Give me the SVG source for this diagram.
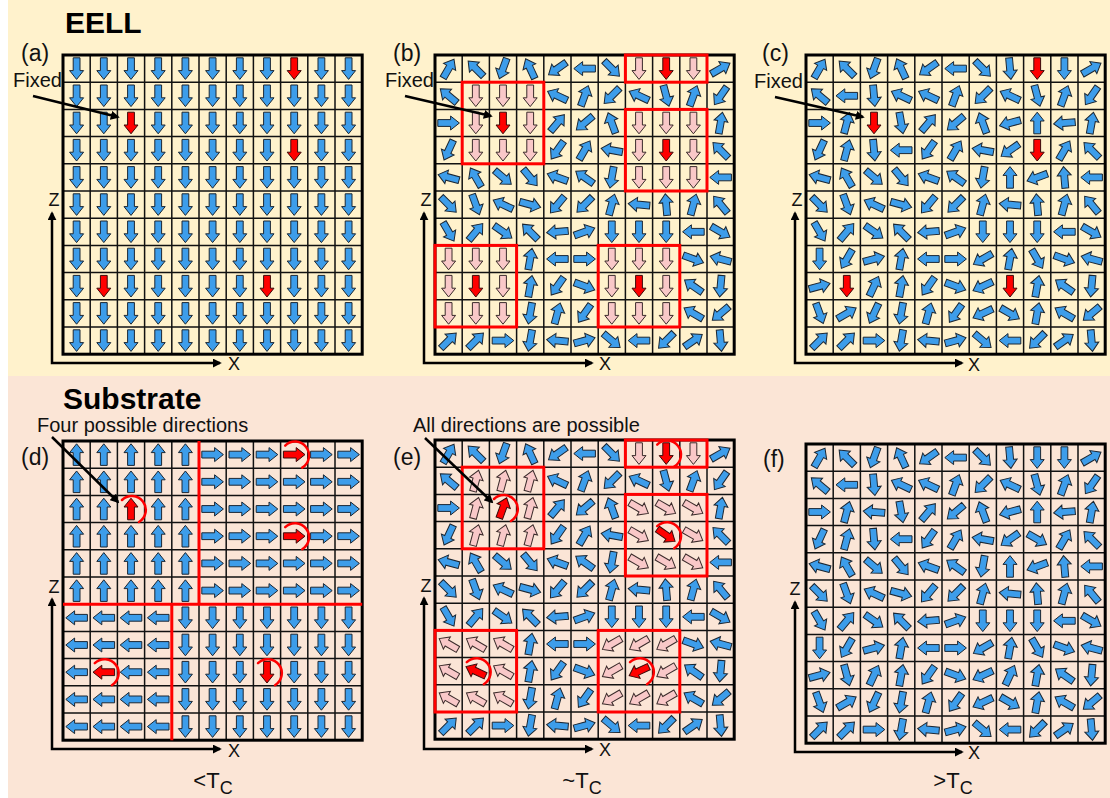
<svg xmlns="http://www.w3.org/2000/svg" width="1110" height="798" viewBox="0 0 1110 798">
<style>
text{font-family:"Liberation Sans",Arial,sans-serif;fill:#111}
.h{font-weight:bold;font-size:30px;fill:#000}
.lb{font-size:23px}
.t{font-size:20px}
.ax{font-size:18px}
.tc{font-size:22px}
.b{fill:#3D9DEA;stroke:#1c2733;stroke-width:1}
.r{fill:#FF0000;stroke:#3a0a0a;stroke-width:1}
.p{fill:#F9C8C8;stroke:#3a2a2a;stroke-width:1}
.gl{fill:none;stroke:#111;stroke-width:1.5}
.go{fill:none;stroke:#000;stroke-width:3}
.rb{fill:none;stroke:#FF0000;stroke-width:3}
.cl{fill:none;stroke:#F00;stroke-width:2.5;stroke-linecap:round}
.cn{fill:none;stroke:#000;stroke-width:2.5}
</style>
<defs>
<marker id="ah" viewBox="0 0 10 10" refX="8" refY="5" markerWidth="3.6" markerHeight="3.6" orient="auto-start-reverse"><path d="M0,0L10,5L0,10Z" fill="#000"/></marker>
<path id="ar" d="M-10.8,-3.4H2V-7L10.8,0L2,7V3.4H-10.8Z"/>
<path id="cu" d="M-10,-10A14,14 0 1 1 7,12"/>
<g id="grid"><path class="gl" d="M27.2 0V299.2M54.4 0V299.2M81.6 0V299.2M108.8 0V299.2M136 0V299.2M163.2 0V299.2M190.4 0V299.2M217.6 0V299.2M244.8 0V299.2M272 0V299.2M0 27.2H299.2M0 54.4H299.2M0 81.6H299.2M0 108.8H299.2M0 136H299.2M0 163.2H299.2M0 190.4H299.2M0 217.6H299.2M0 244.8H299.2M0 272H299.2"/><rect class="go" x="0" y="0" width="299.2" height="299.2"/></g>
<g id="boxes"><rect class="rb" x="27.2" y="27.2" width="81.6" height="81.6"/><rect class="rb" x="190.4" y="0" width="81.6" height="27.2"/><rect class="rb" x="190.4" y="54.4" width="81.6" height="81.6"/><rect class="rb" x="0" y="190.4" width="81.6" height="81.6"/><rect class="rb" x="163.2" y="190.4" width="81.6" height="81.6"/></g>
<g id="rowD" class="b"><use href="#ar" transform="translate(13.6,0)rotate(90)"/><use href="#ar" transform="translate(40.8,0)rotate(90)"/><use href="#ar" transform="translate(68,0)rotate(90)"/><use href="#ar" transform="translate(95.2,0)rotate(90)"/><use href="#ar" transform="translate(122.4,0)rotate(90)"/><use href="#ar" transform="translate(149.6,0)rotate(90)"/><use href="#ar" transform="translate(176.8,0)rotate(90)"/><use href="#ar" transform="translate(204,0)rotate(90)"/><use href="#ar" transform="translate(231.2,0)rotate(90)"/><use href="#ar" transform="translate(258.4,0)rotate(90)"/><use href="#ar" transform="translate(285.6,0)rotate(90)"/></g>
<g id="rowUR" class="b"><use href="#ar" transform="translate(13.6,0)rotate(-90)"/><use href="#ar" transform="translate(40.8,0)rotate(-90)"/><use href="#ar" transform="translate(68,0)rotate(-90)"/><use href="#ar" transform="translate(95.2,0)rotate(-90)"/><use href="#ar" transform="translate(122.4,0)rotate(-90)"/><use href="#ar" transform="translate(149.6,0)"/><use href="#ar" transform="translate(176.8,0)"/><use href="#ar" transform="translate(204,0)"/><use href="#ar" transform="translate(231.2,0)"/><use href="#ar" transform="translate(258.4,0)"/><use href="#ar" transform="translate(285.6,0)"/></g>
<g id="rowLD" class="b"><use href="#ar" transform="translate(13.6,0)rotate(180)"/><use href="#ar" transform="translate(40.8,0)rotate(180)"/><use href="#ar" transform="translate(68,0)rotate(180)"/><use href="#ar" transform="translate(95.2,0)rotate(180)"/><use href="#ar" transform="translate(122.4,0)rotate(90)"/><use href="#ar" transform="translate(149.6,0)rotate(90)"/><use href="#ar" transform="translate(176.8,0)rotate(90)"/><use href="#ar" transform="translate(204,0)rotate(90)"/><use href="#ar" transform="translate(231.2,0)rotate(90)"/><use href="#ar" transform="translate(258.4,0)rotate(90)"/><use href="#ar" transform="translate(285.6,0)rotate(90)"/></g>
<g id="rndOut" class="b">
<use href="#ar" transform="translate(13.6,13.6)rotate(-60)"/><use href="#ar" transform="translate(40.8,13.6)rotate(-135)"/><use href="#ar" transform="translate(68,13.6)rotate(-250)"/><use href="#ar" transform="translate(95.2,13.6)rotate(-115)"/><use href="#ar" transform="translate(122.4,13.6)rotate(-215)"/><use href="#ar" transform="translate(149.6,13.6)rotate(-180)"/><use href="#ar" transform="translate(176.8,13.6)rotate(-315)"/><use href="#ar" transform="translate(285.6,13.6)rotate(-30)"/>
<use href="#ar" transform="translate(13.6,40.8)rotate(-140)"/><use href="#ar" transform="translate(122.4,40.8)rotate(-155)"/><use href="#ar" transform="translate(149.6,40.8)rotate(-70)"/><use href="#ar" transform="translate(176.8,40.8)rotate(-225)"/><use href="#ar" transform="translate(204,40.8)rotate(-155)"/><use href="#ar" transform="translate(231.2,40.8)rotate(-285)"/><use href="#ar" transform="translate(258.4,40.8)rotate(-70)"/><use href="#ar" transform="translate(285.6,40.8)rotate(-235)"/>
<use href="#ar" transform="translate(13.6,68)"/><use href="#ar" transform="translate(122.4,68)rotate(-50)"/><use href="#ar" transform="translate(149.6,68)rotate(-220)"/><use href="#ar" transform="translate(176.8,68)rotate(-110)"/><use href="#ar" transform="translate(285.6,68)rotate(-80)"/>
<use href="#ar" transform="translate(13.6,95.2)rotate(-245)"/><use href="#ar" transform="translate(122.4,95.2)rotate(-235)"/><use href="#ar" transform="translate(149.6,95.2)rotate(-60)"/><use href="#ar" transform="translate(176.8,95.2)rotate(-170)"/><use href="#ar" transform="translate(285.6,95.2)rotate(-135)"/>
<use href="#ar" transform="translate(13.6,122.4)rotate(-165)"/><use href="#ar" transform="translate(40.8,122.4)rotate(-120)"/><use href="#ar" transform="translate(68,122.4)rotate(-320)"/><use href="#ar" transform="translate(95.2,122.4)rotate(-310)"/><use href="#ar" transform="translate(122.4,122.4)rotate(-160)"/><use href="#ar" transform="translate(149.6,122.4)rotate(-145)"/><use href="#ar" transform="translate(176.8,122.4)rotate(-260)"/><use href="#ar" transform="translate(285.6,122.4)rotate(-180)"/>
<use href="#ar" transform="translate(13.6,149.6)rotate(-315)"/><use href="#ar" transform="translate(40.8,149.6)rotate(-290)"/><use href="#ar" transform="translate(68,149.6)rotate(-155)"/><use href="#ar" transform="translate(95.2,149.6)rotate(-345)"/><use href="#ar" transform="translate(122.4,149.6)rotate(-230)"/><use href="#ar" transform="translate(149.6,149.6)rotate(-225)"/><use href="#ar" transform="translate(176.8,149.6)rotate(-75)"/><use href="#ar" transform="translate(204,149.6)rotate(-175)"/><use href="#ar" transform="translate(231.2,149.6)rotate(-95)"/><use href="#ar" transform="translate(258.4,149.6)rotate(-75)"/><use href="#ar" transform="translate(285.6,149.6)rotate(-130)"/>
<use href="#ar" transform="translate(13.6,176.8)rotate(-300)"/><use href="#ar" transform="translate(40.8,176.8)rotate(-50)"/><use href="#ar" transform="translate(68,176.8)rotate(-325)"/><use href="#ar" transform="translate(95.2,176.8)rotate(-135)"/><use href="#ar" transform="translate(122.4,176.8)rotate(-185)"/><use href="#ar" transform="translate(149.6,176.8)rotate(-20)"/><use href="#ar" transform="translate(176.8,176.8)rotate(-270)"/><use href="#ar" transform="translate(204,176.8)rotate(-270)"/><use href="#ar" transform="translate(231.2,176.8)rotate(-270)"/><use href="#ar" transform="translate(258.4,176.8)rotate(-180)"/><use href="#ar" transform="translate(285.6,176.8)rotate(-330)"/>
<use href="#ar" transform="translate(95.2,204)rotate(-80)"/><use href="#ar" transform="translate(122.4,204)rotate(-180)"/><use href="#ar" transform="translate(149.6,204)"/><use href="#ar" transform="translate(258.4,204)rotate(-340)"/><use href="#ar" transform="translate(285.6,204)rotate(-165)"/>
<use href="#ar" transform="translate(95.2,231.2)rotate(-80)"/><use href="#ar" transform="translate(122.4,231.2)rotate(-235)"/><use href="#ar" transform="translate(149.6,231.2)rotate(-340)"/><use href="#ar" transform="translate(258.4,231.2)rotate(-145)"/><use href="#ar" transform="translate(285.6,231.2)rotate(-265)"/>
<use href="#ar" transform="translate(95.2,258.4)rotate(-260)"/><use href="#ar" transform="translate(122.4,258.4)rotate(-75)"/><use href="#ar" transform="translate(149.6,258.4)rotate(-235)"/><use href="#ar" transform="translate(258.4,258.4)rotate(-150)"/><use href="#ar" transform="translate(285.6,258.4)rotate(-220)"/>
<use href="#ar" transform="translate(13.6,285.6)rotate(-45)"/><use href="#ar" transform="translate(40.8,285.6)rotate(-45)"/><use href="#ar" transform="translate(68,285.6)"/><use href="#ar" transform="translate(95.2,285.6)rotate(-260)"/><use href="#ar" transform="translate(122.4,285.6)rotate(-175)"/><use href="#ar" transform="translate(149.6,285.6)rotate(-15)"/><use href="#ar" transform="translate(176.8,285.6)rotate(-320)"/><use href="#ar" transform="translate(204,285.6)rotate(-180)"/><use href="#ar" transform="translate(231.2,285.6)rotate(-225)"/><use href="#ar" transform="translate(258.4,285.6)rotate(-35)"/><use href="#ar" transform="translate(285.6,285.6)rotate(-275)"/>
</g>
<g id="rndIn" class="b">
<use href="#ar" transform="translate(204,13.6)rotate(-275)"/><use href="#ar" transform="translate(258.4,13.6)rotate(-270)"/>
<use href="#ar" transform="translate(40.8,40.8)rotate(-180)"/><use href="#ar" transform="translate(68,40.8)rotate(-275)"/><use href="#ar" transform="translate(95.2,40.8)rotate(-155)"/>
<use href="#ar" transform="translate(40.8,68)rotate(-75)"/><use href="#ar" transform="translate(95.2,68)rotate(-280)"/><use href="#ar" transform="translate(204,68)rotate(-195)"/><use href="#ar" transform="translate(231.2,68)rotate(-90)"/><use href="#ar" transform="translate(258.4,68)rotate(-185)"/>
<use href="#ar" transform="translate(40.8,95.2)rotate(-75)"/><use href="#ar" transform="translate(68,95.2)rotate(-275)"/><use href="#ar" transform="translate(95.2,95.2)rotate(-180)"/><use href="#ar" transform="translate(204,95.2)rotate(-215)"/><use href="#ar" transform="translate(258.4,95.2)rotate(-60)"/>
<use href="#ar" transform="translate(204,122.4)rotate(-90)"/><use href="#ar" transform="translate(231.2,122.4)rotate(-200)"/><use href="#ar" transform="translate(258.4,122.4)rotate(-95)"/>
<use href="#ar" transform="translate(13.6,204)rotate(-270)"/><use href="#ar" transform="translate(40.8,204)rotate(-240)"/><use href="#ar" transform="translate(68,204)rotate(-15)"/><use href="#ar" transform="translate(176.8,204)rotate(-210)"/><use href="#ar" transform="translate(204,204)rotate(-80)"/><use href="#ar" transform="translate(231.2,204)rotate(-300)"/>
<use href="#ar" transform="translate(13.6,231.2)rotate(-15)"/><use href="#ar" transform="translate(68,231.2)rotate(-65)"/><use href="#ar" transform="translate(176.8,231.2)rotate(-205)"/><use href="#ar" transform="translate(231.2,231.2)rotate(-80)"/>
<use href="#ar" transform="translate(13.6,258.4)rotate(-290)"/><use href="#ar" transform="translate(40.8,258.4)rotate(-30)"/><use href="#ar" transform="translate(68,258.4)rotate(-245)"/><use href="#ar" transform="translate(176.8,258.4)rotate(-205)"/><use href="#ar" transform="translate(204,258.4)rotate(-330)"/><use href="#ar" transform="translate(231.2,258.4)rotate(-80)"/>
</g>
<g id="rndRed" class="b"><use href="#ar" transform="translate(231.2,13.6)rotate(-270)"/><use href="#ar" transform="translate(68,68)rotate(-175)"/><use href="#ar" transform="translate(231.2,95.2)rotate(-330)"/><use href="#ar" transform="translate(40.8,231.2)rotate(-285)"/><use href="#ar" transform="translate(204,231.2)rotate(-65)"/></g>
<g id="reds" class="r"><use href="#ar" transform="translate(231.2,13.6)rotate(90)"/><use href="#ar" transform="translate(68,68)rotate(90)"/><use href="#ar" transform="translate(231.2,95.2)rotate(90)"/><use href="#ar" transform="translate(40.8,231.2)rotate(90)"/><use href="#ar" transform="translate(204,231.2)rotate(90)"/></g>
<g id="pinkD" class="p">
<use href="#ar" transform="translate(204,13.6)rotate(90)"/><use href="#ar" transform="translate(258.4,13.6)rotate(90)"/>
<use href="#ar" transform="translate(40.8,40.8)rotate(90)"/><use href="#ar" transform="translate(68,40.8)rotate(90)"/><use href="#ar" transform="translate(95.2,40.8)rotate(90)"/>
<use href="#ar" transform="translate(40.8,68)rotate(90)"/><use href="#ar" transform="translate(95.2,68)rotate(90)"/><use href="#ar" transform="translate(204,68)rotate(90)"/><use href="#ar" transform="translate(231.2,68)rotate(90)"/><use href="#ar" transform="translate(258.4,68)rotate(90)"/>
<use href="#ar" transform="translate(40.8,95.2)rotate(90)"/><use href="#ar" transform="translate(68,95.2)rotate(90)"/><use href="#ar" transform="translate(95.2,95.2)rotate(90)"/><use href="#ar" transform="translate(204,95.2)rotate(90)"/><use href="#ar" transform="translate(258.4,95.2)rotate(90)"/>
<use href="#ar" transform="translate(204,122.4)rotate(90)"/><use href="#ar" transform="translate(231.2,122.4)rotate(90)"/><use href="#ar" transform="translate(258.4,122.4)rotate(90)"/>
<use href="#ar" transform="translate(13.6,204)rotate(90)"/><use href="#ar" transform="translate(40.8,204)rotate(90)"/><use href="#ar" transform="translate(68,204)rotate(90)"/><use href="#ar" transform="translate(176.8,204)rotate(90)"/><use href="#ar" transform="translate(204,204)rotate(90)"/><use href="#ar" transform="translate(231.2,204)rotate(90)"/>
<use href="#ar" transform="translate(13.6,231.2)rotate(90)"/><use href="#ar" transform="translate(68,231.2)rotate(90)"/><use href="#ar" transform="translate(176.8,231.2)rotate(90)"/><use href="#ar" transform="translate(231.2,231.2)rotate(90)"/>
<use href="#ar" transform="translate(13.6,258.4)rotate(90)"/><use href="#ar" transform="translate(40.8,258.4)rotate(90)"/><use href="#ar" transform="translate(68,258.4)rotate(90)"/><use href="#ar" transform="translate(176.8,258.4)rotate(90)"/><use href="#ar" transform="translate(204,258.4)rotate(90)"/><use href="#ar" transform="translate(231.2,258.4)rotate(90)"/>
</g>
</defs>

<rect width="1110" height="798" fill="#fff"/>
<rect x="8" y="0" width="1102" height="376" fill="#FFF2CC"/>
<rect x="8" y="376" width="1102" height="422" fill="#FBE5D6"/>

<text class="h" x="65" y="33">EELL</text>
<text class="h" x="63" y="409">Substrate</text>

<g id="panel-a" transform="translate(63,55)">
<g class="b"><use href="#ar" transform="translate(13.6,13.6)rotate(90)"/><use href="#ar" transform="translate(40.8,13.6)rotate(90)"/><use href="#ar" transform="translate(68,13.6)rotate(90)"/><use href="#ar" transform="translate(95.2,13.6)rotate(90)"/><use href="#ar" transform="translate(122.4,13.6)rotate(90)"/><use href="#ar" transform="translate(149.6,13.6)rotate(90)"/><use href="#ar" transform="translate(176.8,13.6)rotate(90)"/><use href="#ar" transform="translate(204,13.6)rotate(90)"/><use href="#ar" transform="translate(258.4,13.6)rotate(90)"/><use href="#ar" transform="translate(285.6,13.6)rotate(90)"/>
<use href="#ar" transform="translate(13.6,68)rotate(90)"/><use href="#ar" transform="translate(40.8,68)rotate(90)"/><use href="#ar" transform="translate(95.2,68)rotate(90)"/><use href="#ar" transform="translate(122.4,68)rotate(90)"/><use href="#ar" transform="translate(149.6,68)rotate(90)"/><use href="#ar" transform="translate(176.8,68)rotate(90)"/><use href="#ar" transform="translate(204,68)rotate(90)"/><use href="#ar" transform="translate(231.2,68)rotate(90)"/><use href="#ar" transform="translate(258.4,68)rotate(90)"/><use href="#ar" transform="translate(285.6,68)rotate(90)"/>
<use href="#ar" transform="translate(13.6,95.2)rotate(90)"/><use href="#ar" transform="translate(40.8,95.2)rotate(90)"/><use href="#ar" transform="translate(68,95.2)rotate(90)"/><use href="#ar" transform="translate(95.2,95.2)rotate(90)"/><use href="#ar" transform="translate(122.4,95.2)rotate(90)"/><use href="#ar" transform="translate(149.6,95.2)rotate(90)"/><use href="#ar" transform="translate(176.8,95.2)rotate(90)"/><use href="#ar" transform="translate(204,95.2)rotate(90)"/><use href="#ar" transform="translate(258.4,95.2)rotate(90)"/><use href="#ar" transform="translate(285.6,95.2)rotate(90)"/>
<use href="#ar" transform="translate(13.6,231.2)rotate(90)"/><use href="#ar" transform="translate(68,231.2)rotate(90)"/><use href="#ar" transform="translate(95.2,231.2)rotate(90)"/><use href="#ar" transform="translate(122.4,231.2)rotate(90)"/><use href="#ar" transform="translate(149.6,231.2)rotate(90)"/><use href="#ar" transform="translate(176.8,231.2)rotate(90)"/><use href="#ar" transform="translate(231.2,231.2)rotate(90)"/><use href="#ar" transform="translate(258.4,231.2)rotate(90)"/><use href="#ar" transform="translate(285.6,231.2)rotate(90)"/></g>
<use href="#rowD" y="40.8"/><use href="#rowD" y="122.4"/><use href="#rowD" y="149.6"/><use href="#rowD" y="176.8"/><use href="#rowD" y="204"/><use href="#rowD" y="258.4"/><use href="#rowD" y="285.6"/>
<use href="#reds"/>
<use href="#grid"/>
</g>

<g id="panel-b" transform="translate(435,55)">
<use href="#rndOut"/><use href="#pinkD"/><use href="#reds"/>
<use href="#grid"/><use href="#boxes"/>
</g>

<g id="panel-c" transform="translate(806,55)">
<use href="#rndOut"/><use href="#rndIn"/><use href="#reds"/>
<use href="#grid"/>
</g>

<g id="panel-d" transform="translate(63,441)">
<g class="b">
<use href="#ar" transform="translate(13.6,13.6)rotate(-90)"/><use href="#ar" transform="translate(40.8,13.6)rotate(-90)"/><use href="#ar" transform="translate(68,13.6)rotate(-90)"/><use href="#ar" transform="translate(95.2,13.6)rotate(-90)"/><use href="#ar" transform="translate(122.4,13.6)rotate(-90)"/><use href="#ar" transform="translate(149.6,13.6)"/><use href="#ar" transform="translate(176.8,13.6)"/><use href="#ar" transform="translate(204,13.6)"/><use href="#ar" transform="translate(258.4,13.6)"/><use href="#ar" transform="translate(285.6,13.6)"/>
<use href="#ar" transform="translate(13.6,68)rotate(-90)"/><use href="#ar" transform="translate(40.8,68)rotate(-90)"/><use href="#ar" transform="translate(95.2,68)rotate(-90)"/><use href="#ar" transform="translate(122.4,68)rotate(-90)"/><use href="#ar" transform="translate(149.6,68)"/><use href="#ar" transform="translate(176.8,68)"/><use href="#ar" transform="translate(204,68)"/><use href="#ar" transform="translate(231.2,68)"/><use href="#ar" transform="translate(258.4,68)"/><use href="#ar" transform="translate(285.6,68)"/>
<use href="#ar" transform="translate(13.6,95.2)rotate(-90)"/><use href="#ar" transform="translate(40.8,95.2)rotate(-90)"/><use href="#ar" transform="translate(68,95.2)rotate(-90)"/><use href="#ar" transform="translate(95.2,95.2)rotate(-90)"/><use href="#ar" transform="translate(122.4,95.2)rotate(-90)"/><use href="#ar" transform="translate(149.6,95.2)"/><use href="#ar" transform="translate(176.8,95.2)"/><use href="#ar" transform="translate(204,95.2)"/><use href="#ar" transform="translate(258.4,95.2)"/><use href="#ar" transform="translate(285.6,95.2)"/>
<use href="#ar" transform="translate(13.6,231.2)rotate(180)"/><use href="#ar" transform="translate(68,231.2)rotate(180)"/><use href="#ar" transform="translate(95.2,231.2)rotate(180)"/><use href="#ar" transform="translate(122.4,231.2)rotate(90)"/><use href="#ar" transform="translate(149.6,231.2)rotate(90)"/><use href="#ar" transform="translate(176.8,231.2)rotate(90)"/><use href="#ar" transform="translate(231.2,231.2)rotate(90)"/><use href="#ar" transform="translate(258.4,231.2)rotate(90)"/><use href="#ar" transform="translate(285.6,231.2)rotate(90)"/>
</g>
<use href="#rowUR" y="40.8"/><use href="#rowUR" y="122.4"/><use href="#rowUR" y="149.6"/>
<use href="#rowLD" y="176.8"/><use href="#rowLD" y="204"/><use href="#rowLD" y="258.4"/><use href="#rowLD" y="285.6"/>
<g class="r"><use href="#ar" transform="translate(231.2,13.6)"/><use href="#ar" transform="translate(68,68)rotate(-90)"/><use href="#ar" transform="translate(231.2,95.2)"/><use href="#ar" transform="translate(40.8,231.2)rotate(180)"/><use href="#ar" transform="translate(204,231.2)rotate(90)"/></g>
<use href="#grid"/>
<path fill="none" stroke="#FF0000" stroke-width="3" d="M136,0V163.2M0,163.2H299.2M108.8,163.2V299.2"/>
<g class="cl"><use href="#cu" transform="translate(232.2,14.6)"/><use href="#cu" transform="translate(69,69)"/><use href="#cu" transform="translate(232.2,96.2)"/><use href="#cu" transform="translate(41.8,232.2)"/><use href="#cu" transform="translate(205,232.2)"/></g>
</g>

<g id="panel-e" transform="translate(435,440)">
<use href="#rndOut"/>
<g class="p">
<use href="#ar" transform="translate(40.8,40.8)rotate(-75)"/><use href="#ar" transform="translate(68,40.8)rotate(-75)"/><use href="#ar" transform="translate(95.2,40.8)rotate(-75)"/><use href="#ar" transform="translate(40.8,68)rotate(-75)"/><use href="#ar" transform="translate(95.2,68)rotate(-75)"/><use href="#ar" transform="translate(40.8,95.2)rotate(-75)"/><use href="#ar" transform="translate(68,95.2)rotate(-75)"/><use href="#ar" transform="translate(95.2,95.2)rotate(-75)"/>
<use href="#ar" transform="translate(204,13.6)rotate(90)"/><use href="#ar" transform="translate(258.4,13.6)rotate(90)"/>
<use href="#ar" transform="translate(204,68)rotate(30)"/><use href="#ar" transform="translate(231.2,68)rotate(30)"/><use href="#ar" transform="translate(258.4,68)rotate(30)"/><use href="#ar" transform="translate(204,95.2)rotate(30)"/><use href="#ar" transform="translate(258.4,95.2)rotate(30)"/><use href="#ar" transform="translate(204,122.4)rotate(30)"/><use href="#ar" transform="translate(231.2,122.4)rotate(30)"/><use href="#ar" transform="translate(258.4,122.4)rotate(30)"/>
<use href="#ar" transform="translate(13.6,204)rotate(-150)"/><use href="#ar" transform="translate(40.8,204)rotate(-150)"/><use href="#ar" transform="translate(68,204)rotate(-150)"/><use href="#ar" transform="translate(13.6,231.2)rotate(-150)"/><use href="#ar" transform="translate(68,231.2)rotate(-150)"/><use href="#ar" transform="translate(13.6,258.4)rotate(-150)"/><use href="#ar" transform="translate(40.8,258.4)rotate(-150)"/><use href="#ar" transform="translate(68,258.4)rotate(-150)"/>
<use href="#ar" transform="translate(176.8,204)rotate(150)"/><use href="#ar" transform="translate(204,204)rotate(150)"/><use href="#ar" transform="translate(231.2,204)rotate(150)"/><use href="#ar" transform="translate(176.8,231.2)rotate(150)"/><use href="#ar" transform="translate(231.2,231.2)rotate(150)"/><use href="#ar" transform="translate(176.8,258.4)rotate(150)"/><use href="#ar" transform="translate(204,258.4)rotate(150)"/><use href="#ar" transform="translate(231.2,258.4)rotate(150)"/>
</g>
<g class="r"><use href="#ar" transform="translate(68,68)rotate(-70)"/><use href="#ar" transform="translate(231.2,13.6)rotate(90)"/><use href="#ar" transform="translate(231.2,95.2)rotate(35)"/><use href="#ar" transform="translate(40.8,231.2)rotate(-155)"/><use href="#ar" transform="translate(204,231.2)rotate(155)"/></g>
<use href="#grid"/><use href="#boxes"/>
<g class="cl"><use href="#cu" transform="translate(232.2,14.6)"/><use href="#cu" transform="translate(69,69)"/><use href="#cu" transform="translate(232.2,96.2)"/><use href="#cu" transform="translate(41.8,232.2)"/><use href="#cu" transform="translate(205,232.2)"/></g>
</g>

<g id="panel-f" transform="translate(806,444)">
<use href="#rndOut"/><use href="#rndIn"/><use href="#rndRed"/>
<use href="#grid"/>
</g>

<g id="labels">
<text class="lb" x="21" y="61">(a)</text>
<text class="t" x="13" y="87">Fixed</text>
<text class="lb" x="393" y="61">(b)</text>
<text class="t" x="385" y="87">Fixed</text>
<text class="lb" x="762" y="61">(c)</text>
<text class="t" x="754" y="88">Fixed</text>
<text class="t" x="37" y="432">Four possible directions</text>
<text class="t" x="413" y="432">All directions are possible</text>
<text class="lb" x="21" y="465">(d)</text>
<text class="lb" x="393" y="465">(e)</text>
<text class="lb" x="763" y="467">(f)</text>
<text class="ax" x="54" y="206" text-anchor="middle">Z</text>
<text class="ax" x="228" y="370">X</text>
<text class="ax" x="426" y="206" text-anchor="middle">Z</text>
<text class="ax" x="599" y="370">X</text>
<text class="ax" x="797" y="206" text-anchor="middle">Z</text>
<text class="ax" x="968" y="371">X</text>
<text class="ax" x="54" y="593" text-anchor="middle">Z</text>
<text class="ax" x="228" y="757">X</text>
<text class="ax" x="426" y="592" text-anchor="middle">Z</text>
<text class="ax" x="599" y="756">X</text>
<text class="ax" x="795" y="595" text-anchor="middle">Z</text>
<text class="ax" x="968" y="759">X</text>
<text class="tc" x="213" y="788" text-anchor="middle">&lt;T<tspan dy="6" font-size="18">C</tspan></text>
<text class="tc" x="582" y="788" text-anchor="middle">~T<tspan dy="6" font-size="18">C</tspan></text>
<text class="tc" x="953" y="788" text-anchor="middle">&gt;T<tspan dy="6" font-size="18">C</tspan></text>
</g>

<g id="connectors" class="cn">
<path d="M33,96L118,117" marker-end="url(#ah)"/>
<path d="M405,96L491,116" marker-end="url(#ah)"/>
<path d="M775,97L863,117" marker-end="url(#ah)"/>
<path d="M52,437L118,502" marker-end="url(#ah)"/>
<path d="M425,438L492,502" marker-end="url(#ah)"/>
<path d="M52,213V363H220" marker-start="url(#ah)" marker-end="url(#ah)"/>
<path d="M424,213V363H592" marker-start="url(#ah)" marker-end="url(#ah)"/>
<path d="M795,213V363H962" marker-start="url(#ah)" marker-end="url(#ah)"/>
<path d="M52,599V749H220" marker-start="url(#ah)" marker-end="url(#ah)"/>
<path d="M424,598V749H592" marker-start="url(#ah)" marker-end="url(#ah)"/>
<path d="M795,602V752H962" marker-start="url(#ah)" marker-end="url(#ah)"/>
</g>
</svg>
